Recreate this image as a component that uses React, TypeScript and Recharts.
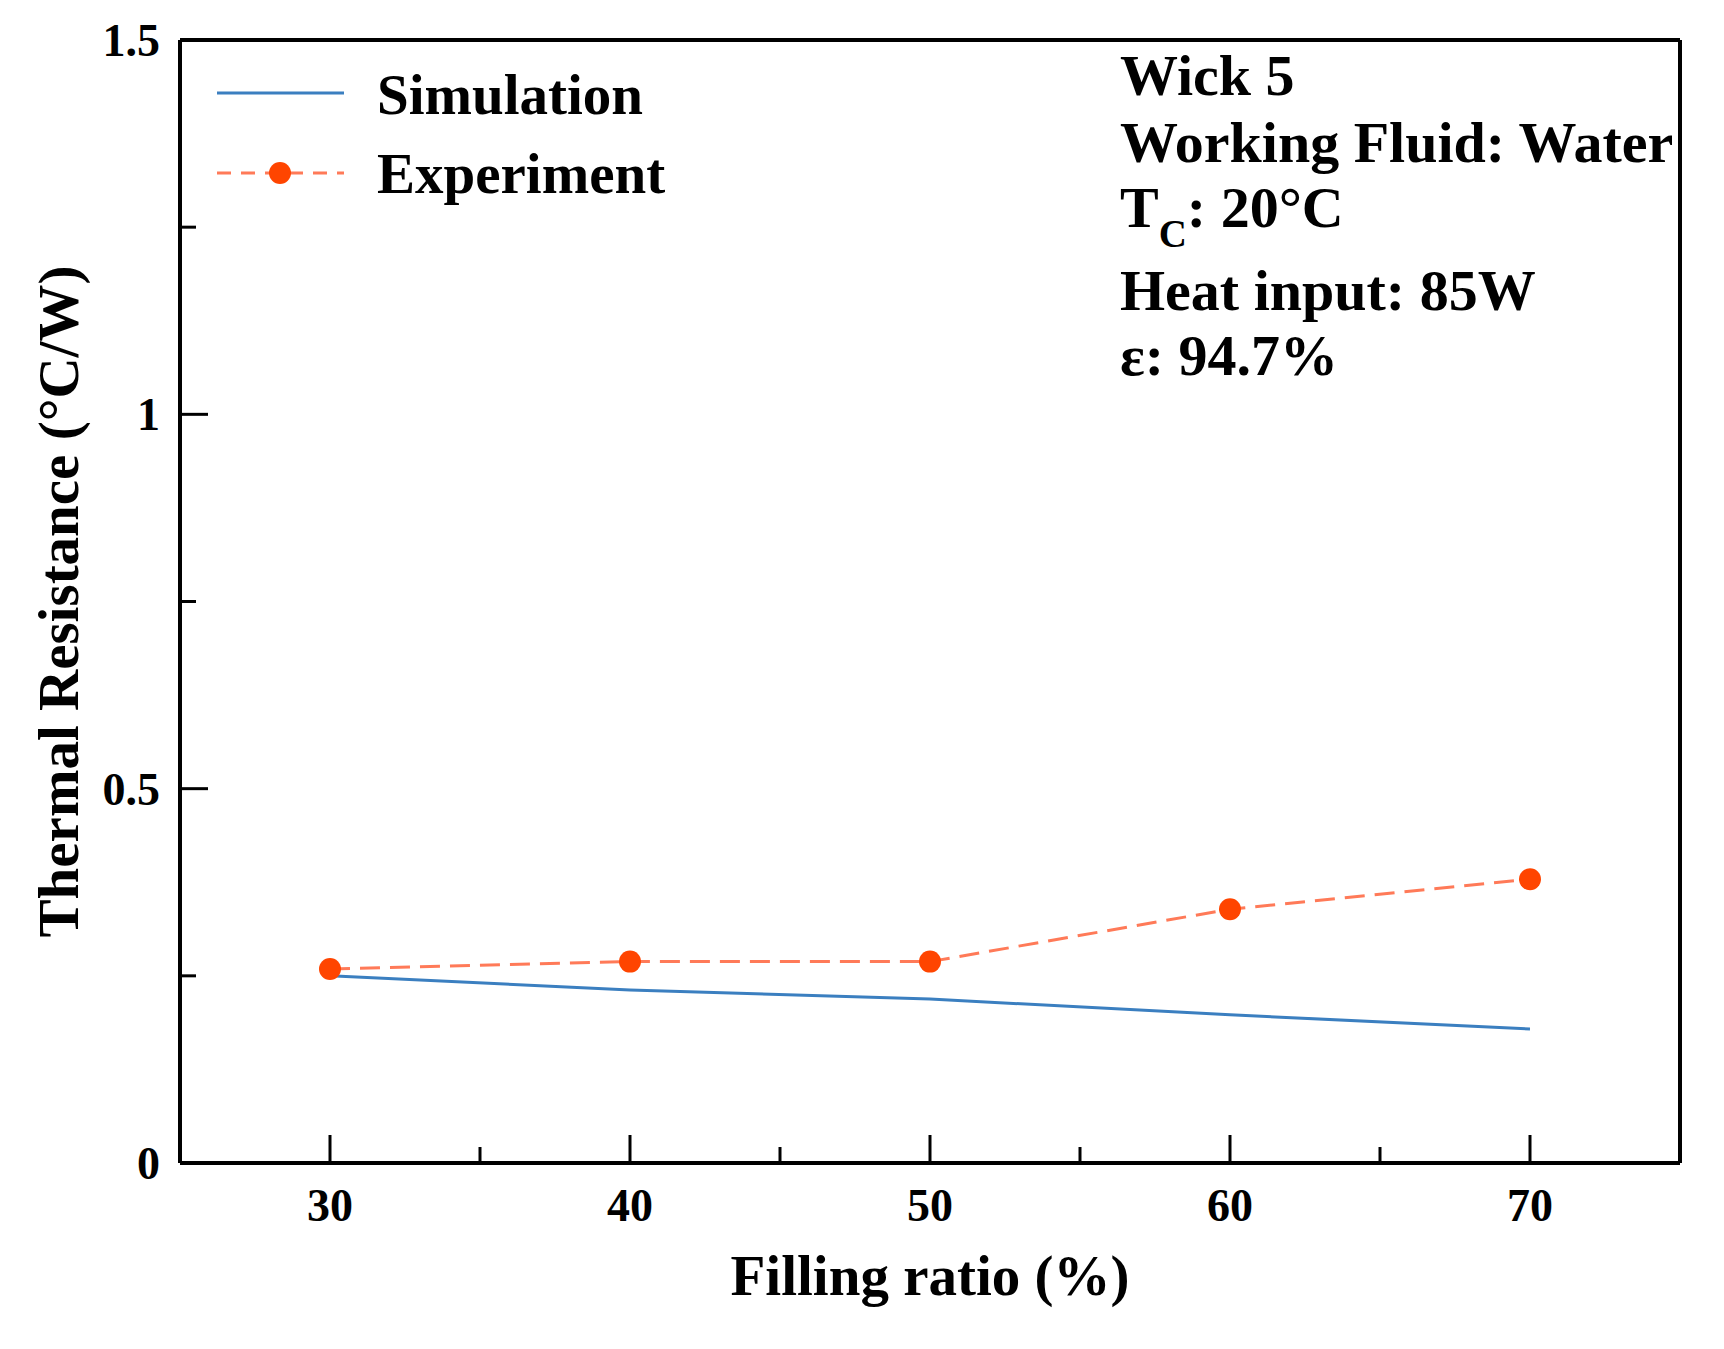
import React from 'react';
import { LineChart, Line, XAxis, YAxis, ReferenceLine } from 'recharts';

// values
const fillingRatio = [30, 40, 50, 60, 70];
const simulation = [0.25, 0.231, 0.219, 0.198, 0.179];
const experiment = [0.259, 0.269, 0.269, 0.339, 0.379];

const xTicks = [30, 35, 40, 45, 50, 55, 60, 65, 70];
const xLabels = ['30', '40', '50', '60', '70'];
const yTicks = [0, 0.25, 0.5, 0.75, 1, 1.25, 1.5];
const yLabels = ['0', '0.5', '1', '1.5'];

const infoLines = ['Wick 5', 'Working Fluid: Water', 'Heat input: 85W', 'ε: 94.7%'];

const data = fillingRatio.map((x, i) => ({ x, sim: simulation[i], exp: experiment[i] }));

const FONT = '"Liberation Serif", "Times New Roman", serif';
const BLUE = '#3b7fc0';
const RED = '#ff4500';
const RED_LINE = '#ff7a58';

const XTick = (props: any) => {
  const { x, y, payload } = props;
  const label = String(payload.value);
  const major = xLabels.includes(label);
  return (
    <g>
      <line x1={x} y1={y} x2={x} y2={y - (major ? 28 : 16)} stroke="#000" strokeWidth={3} />
      {major && (
        <text x={x} y={y + 58} textAnchor="middle" fontFamily={FONT} fontWeight="bold" fontSize={46} fill="#000">
          {label}
        </text>
      )}
    </g>
  );
};

const YTick = (props: any) => {
  const { x, y, payload } = props;
  const label = String(payload.value);
  const major = yLabels.includes(label);
  return (
    <g>
      <line x1={x} y1={y} x2={x + (major ? 28 : 16)} y2={y} stroke="#000" strokeWidth={3} />
      {major && (
        <text x={x - 20} y={y + 16} textAnchor="end" fontFamily={FONT} fontWeight="bold" fontSize={46} fill="#000">
          {label}
        </text>
      )}
    </g>
  );
};

const Overlay = () => (
  <svg
    width={1724}
    height={1349}
    style={{ position: 'absolute', left: 0, top: 0, pointerEvents: 'none' }}
    fontFamily={FONT}
    fontWeight="bold"
    fontSize={57}
  >
    {/* legend */}
    <line x1={217} y1={93} x2={344} y2={93} stroke={BLUE} strokeWidth={3} />
    <text x={377} y={114}>Simulation</text>
    <line x1={217} y1={173} x2={344} y2={173} stroke={RED_LINE} strokeWidth={3} strokeDasharray="14 10" />
    <circle cx={280} cy={173} r={11} fill={RED} />
    <text x={377} y={193}>Experiment</text>

    {/* run conditions */}
    <g fontSize={58}>
      <text x={1120} y={95}>{infoLines[0]}</text>
      <text x={1120} y={162}>{infoLines[1]}</text>
      <text x={1120} y={227}>
        T
        <tspan fontSize={39} dy={20}>C</tspan>
        <tspan dy={-20}>: 20°C</tspan>
      </text>
      <text x={1120} y={310}>{infoLines[2]}</text>
      <text x={1120} y={375}>{infoLines[3]}</text>
    </g>
  </svg>
);

export default function App() {
  return (
    <div style={{ position: 'absolute', left: 0, top: 0, width: 1724, height: 1349, background: '#fff' }}>
      <LineChart width={1724} height={1349} data={data} margin={{ top: 40, right: 44, bottom: 86, left: 80 }}>
        <XAxis
          dataKey="x"
          type="number"
          domain={[25, 75]}
          ticks={xTicks}
          interval={0}
          height={100}
          tickSize={0}
          tickMargin={0}
          tickLine={false}
          tick={<XTick />}
          axisLine={{ stroke: '#000', strokeWidth: 4 }}
          label={{
            content: (p: any) => {
              const vb = p.viewBox;
              return (
                <text x={vb.x + vb.width / 2} y={1295} textAnchor="middle" fontFamily={FONT} fontWeight="bold" fontSize={57} fill="#000">
                  Filling ratio (%)
                </text>
              );
            },
          }}
        />
        <YAxis
          type="number"
          domain={[0, 1.5]}
          ticks={yTicks}
          interval={0}
          width={100}
          tickSize={0}
          tickMargin={0}
          tickLine={false}
          tick={<YTick />}
          axisLine={{ stroke: '#000', strokeWidth: 4 }}
          label={{
            content: (p: any) => {
              const vb = p.viewBox;
              const cy = vb.y + vb.height / 2;
              return (
                <text
                  x={78}
                  y={cy}
                  transform={`rotate(-90, 78, ${cy})`}
                  textAnchor="middle"
                  fontFamily={FONT}
                  fontWeight="bold"
                  fontSize={57}
                  fill="#000"
                >
                  Thermal Resistance (°C/W)
                </text>
              );
            },
          }}
        />
        <ReferenceLine y={1.5} stroke="#000" strokeWidth={4} />
        <ReferenceLine x={75} stroke="#000" strokeWidth={4} />
        <Line type="linear" dataKey="sim" stroke={BLUE} strokeWidth={3} dot={false} isAnimationActive={false} />
        <Line
          type="linear"
          dataKey="exp"
          stroke={RED_LINE}
          strokeWidth={3}
          strokeDasharray="20 10"
          dot={{ r: 11, fill: RED, stroke: 'none' }}
          isAnimationActive={false}
        />
      </LineChart>
      <Overlay />
    </div>
  );
}
